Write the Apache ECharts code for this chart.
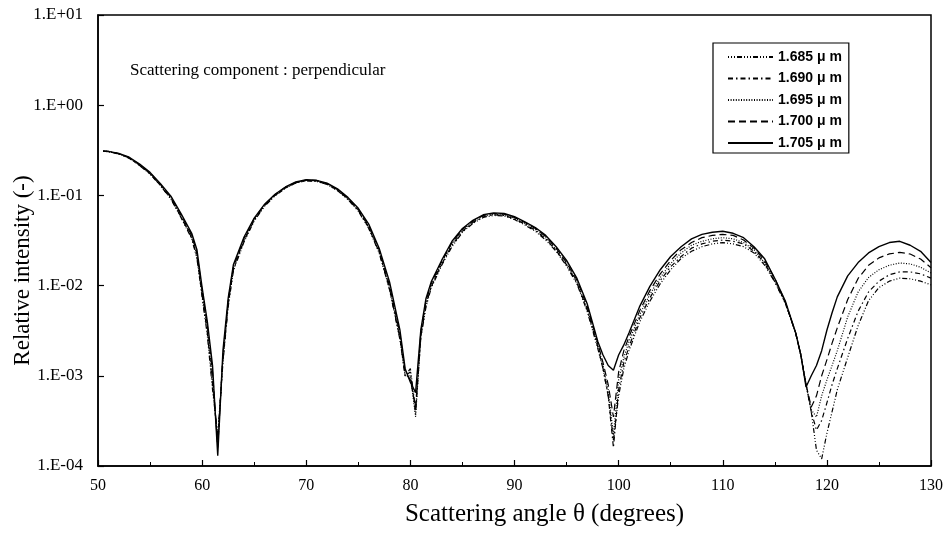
<!DOCTYPE html>
<html>
<head>
<meta charset="utf-8">
<script src="https://cdn.jsdelivr.net/npm/echarts@6/dist/echarts.min.js"></script>
<style>
  html, body { margin: 0; padding: 0; background: #fff; }
  #chart { width: 950px; height: 548px; }
</style>
</head>
<body>
<div id="chart"></div>
<script>
// Scattering angle (degrees); finer steps around the minima
const angles = [
  50.5, 51, 52, 53, 54, 55, 56, 57, 58, 59,
  59.5, 60, 60.5, 61, 61.5, 62, 62.5, 63,
  64, 65, 66, 67, 68, 69, 70, 71, 72, 73, 74, 75, 76, 77, 78, 79,
  79.5, 80, 80.5, 81, 81.5, 82,
  83, 84, 85, 86, 87, 88, 89, 90, 91, 92, 93, 94, 95, 96, 97, 98,
  98.5, 99, 99.5, 100, 100.5, 101,
  102, 103, 104, 105, 106, 107, 108, 109, 110, 111, 112, 113, 114, 115, 116, 117,
  117.5, 118, 118.5, 119, 119.5, 120, 120.5, 121,
  122, 123, 124, 125, 126, 127, 128, 129, 130
];

// Relative intensity, perpendicular component, one array per wavelength
const wl1685 = [
  0.31, 0.305, 0.288, 0.258, 0.214, 0.173, 0.128, 0.091, 0.056, 0.033,
  0.020, 0.0075, 0.0028, 0.0007, 0.00022, 0.0014, 0.0058, 0.0145,
  0.030, 0.052, 0.076, 0.099, 0.120, 0.137, 0.145, 0.143, 0.132, 0.113, 0.090, 0.067, 0.043, 0.023, 0.0090, 0.0025,
  0.0010, 0.0012, 0.00042, 0.0026, 0.0058, 0.0094,
  0.0167, 0.027, 0.039, 0.049, 0.057, 0.060, 0.059, 0.054, 0.047, 0.040, 0.032, 0.024, 0.0165, 0.0104, 0.0051, 0.0020,
  0.0012, 0.0006, 0.00019, 0.0006, 0.0012, 0.0019,
  0.0039, 0.0067, 0.0105, 0.015, 0.020, 0.024, 0.027, 0.029, 0.030, 0.029, 0.027, 0.023, 0.017, 0.011, 0.0064, 0.0030,
  0.0017, 0.0008, 0.0004, 0.00015, 0.00012, 0.00023, 0.0004, 0.0007,
  0.0016, 0.0036, 0.0068, 0.0095, 0.0112, 0.0121, 0.0119, 0.0112, 0.0102
];
const wl1690 = [
  0.31, 0.306, 0.289, 0.259, 0.215, 0.174, 0.129, 0.092, 0.057, 0.034,
  0.021, 0.0078, 0.0030, 0.0008, 0.00020, 0.0015, 0.0061, 0.015,
  0.031, 0.053, 0.077, 0.100, 0.121, 0.138, 0.146, 0.144, 0.133, 0.114, 0.091, 0.068, 0.044, 0.0235, 0.0092, 0.0026,
  0.0010, 0.0011, 0.00038, 0.0027, 0.0061, 0.0097,
  0.0172, 0.028, 0.040, 0.050, 0.058, 0.061, 0.060, 0.055, 0.048, 0.041, 0.033, 0.0245, 0.017, 0.0107, 0.0053, 0.0021,
  0.0012, 0.0006, 0.00016, 0.0007, 0.0014, 0.0021,
  0.0043, 0.0073, 0.0114, 0.0162, 0.021, 0.026, 0.029, 0.031, 0.032, 0.031, 0.029, 0.024, 0.018, 0.011, 0.0065, 0.0030,
  0.0017, 0.0008, 0.0004, 0.00025, 0.00032, 0.0005, 0.0008, 0.0012,
  0.0026, 0.0052, 0.0085, 0.0112, 0.0132, 0.0142, 0.0142, 0.0135, 0.0121
];
const wl1695 = [
  0.31, 0.306, 0.289, 0.260, 0.216, 0.175, 0.130, 0.093, 0.058, 0.035,
  0.022, 0.0082, 0.0033, 0.0009, 0.00018, 0.0016, 0.0064, 0.0155,
  0.032, 0.054, 0.078, 0.101, 0.122, 0.139, 0.147, 0.145, 0.134, 0.115, 0.092, 0.069, 0.045, 0.024, 0.0095, 0.0027,
  0.0010, 0.0010, 0.00035, 0.0028, 0.0064, 0.010,
  0.0177, 0.029, 0.041, 0.051, 0.059, 0.062, 0.061, 0.056, 0.049, 0.042, 0.034, 0.025, 0.0175, 0.011, 0.0055, 0.0022,
  0.0013, 0.0007, 0.00022, 0.0009, 0.0016, 0.0024,
  0.0047, 0.0080, 0.0123, 0.0175, 0.023, 0.028, 0.031, 0.033, 0.034, 0.033, 0.030, 0.025, 0.018, 0.0115, 0.0065, 0.0030,
  0.0017, 0.0008, 0.00042, 0.00035, 0.0006, 0.0009, 0.0013, 0.0019,
  0.0045, 0.0085, 0.0123, 0.0150, 0.0168, 0.0178, 0.0174, 0.0160, 0.0138
];
const wl1700 = [
  0.31, 0.307, 0.290, 0.262, 0.218, 0.177, 0.132, 0.095, 0.060, 0.036,
  0.023, 0.0088, 0.0036, 0.0011, 0.00016, 0.0017, 0.0068, 0.016,
  0.033, 0.055, 0.079, 0.102, 0.123, 0.140, 0.148, 0.146, 0.135, 0.116, 0.093, 0.070, 0.046, 0.025, 0.010, 0.0029,
  0.0011, 0.0009, 0.00045, 0.0030, 0.0068, 0.0105,
  0.0183, 0.030, 0.042, 0.052, 0.060, 0.063, 0.062, 0.057, 0.050, 0.043, 0.035, 0.026, 0.018, 0.0115, 0.0058, 0.0023,
  0.0014, 0.0008, 0.00035, 0.0011, 0.0019, 0.0027,
  0.0052, 0.0088, 0.0135, 0.019, 0.025, 0.030, 0.034, 0.036, 0.037, 0.036, 0.032, 0.026, 0.019, 0.012, 0.0066, 0.0030,
  0.0017, 0.0008, 0.00045, 0.0006, 0.0010, 0.0015, 0.0023, 0.0034,
  0.0070, 0.0120, 0.0168, 0.0203, 0.0225, 0.0233, 0.0224, 0.0197, 0.0158
];
const wl1705 = [
  0.31, 0.308, 0.292, 0.265, 0.222, 0.180, 0.135, 0.098, 0.062, 0.038,
  0.025, 0.0095, 0.004, 0.0013, 0.00013, 0.0019, 0.0072, 0.017,
  0.034, 0.056, 0.080, 0.103, 0.124, 0.141, 0.149, 0.147, 0.137, 0.118, 0.095, 0.072, 0.048, 0.026, 0.011, 0.0032,
  0.0012, 0.00085, 0.00065, 0.0032, 0.0072, 0.011,
  0.019, 0.031, 0.043, 0.053, 0.061, 0.064, 0.063, 0.058, 0.051, 0.044, 0.036, 0.027, 0.019, 0.012, 0.0062, 0.0024,
  0.0017, 0.0013, 0.00115, 0.0017, 0.0022, 0.0030,
  0.0058, 0.0098, 0.015, 0.021, 0.027, 0.033, 0.037, 0.039, 0.040, 0.038, 0.034, 0.027, 0.020, 0.012, 0.0068, 0.0030,
  0.0017, 0.00075, 0.0010, 0.0013, 0.0019, 0.0032, 0.0050, 0.0075,
  0.0128, 0.018, 0.023, 0.027, 0.030, 0.031, 0.028, 0.024, 0.018
];

const seriesNames = ['1.685 \u03bc m', '1.690 \u03bc m', '1.695 \u03bc m', '1.700 \u03bc m', '1.705 \u03bc m'];
const seriesValues = [wl1685, wl1690, wl1695, wl1700, wl1705];
const dashPatterns = [[1, 2, 1, 2, 1, 2, 5, 2], [5, 3, 1.5, 3], [1, 1.6], [7, 4], 'solid'];

const xTickValues = [50, 60, 70, 80, 90, 100, 110, 120, 130];
const yTickLabels = ['1.E-04', '1.E-03', '1.E-02', '1.E-01', '1.E+00', '1.E+01'];

const serif = 'Liberation Serif';

const chart = echarts.init(document.getElementById('chart'), null, { renderer: 'canvas' });

const series = seriesNames.map((name, i) => ({
  name: name,
  type: 'line',
  data: angles.map((a, k) => [a, seriesValues[i][k]]),
  symbol: 'none',
  smooth: false,
  animation: false,
  z: 2 + i,
  itemStyle: { color: '#000' },
  lineStyle: { color: '#000', width: i === 4 ? 1.4 : 1.2, type: dashPatterns[i] }
}));

chart.setOption({
  backgroundColor: '#fff',
  animation: false,
  grid: {
    left: 98, right: 19, top: 15, bottom: 82,
    outerBoundsMode: 'none',
    containLabel: false,
    show: true, borderColor: '#000', borderWidth: 1.5, backgroundColor: 'transparent'
  },
  legend: {
    orient: 'vertical',
    left: 713, top: 43,
    padding: [7, 7, 3, 14],
    itemGap: 7.5,
    itemWidth: 45,
    itemHeight: 14,
    borderColor: '#000',
    borderWidth: 1.2,
    borderRadius: 0,
    backgroundColor: '#fff',
    itemStyle: { color: 'rgba(0,0,0,0)', borderWidth: 0, opacity: 0 },
    textStyle: { fontFamily: 'Liberation Sans', fontSize: 14, fontWeight: 'bold', color: '#000' },
    data: seriesNames
  },
  xAxis: {
    type: 'value',
    min: 50, max: 130, interval: 10,
    name: 'Scattering angle \u03b8 (degrees)',
    nameLocation: 'middle',
    nameGap: 36,
    nameMoveOverlap: false,
    nameTextStyle: { fontFamily: serif, fontSize: 25, color: '#000', padding: [0, 0, 0, 60] },
    axisLine: { show: true, lineStyle: { color: '#000', width: 1.5 } },
    axisTick: { show: true, inside: true, length: 6, lineStyle: { color: '#000', width: 1.2 } },
    minorTick: { show: true, splitNumber: 2, length: 4, lineStyle: { color: '#000', width: 1 } },
    axisLabel: {
      margin: 12, fontFamily: serif, fontSize: 16, color: '#000',
      formatter: v => (xTickValues.indexOf(v) >= 0 ? String(v) : '')
    },
    splitLine: { show: false }
  },
  yAxis: {
    type: 'log',
    logBase: 10,
    min: 1e-4, max: 10,
    interval: 1,
    name: 'Relative intensity (-)',
    nameLocation: 'middle',
    nameGap: 64,
    nameMoveOverlap: false,
    nameTextStyle: { fontFamily: serif, fontSize: 23, color: '#000', padding: [0, 60, 0, 0] },
    axisLine: { show: true, lineStyle: { color: '#000', width: 1.5 } },
    axisTick: { show: true, inside: true, length: 6, lineStyle: { color: '#000', width: 1.2 } },
    axisLabel: {
      margin: 15, fontFamily: serif, fontSize: 17, color: '#000',
      formatter: v => {
        const idx = Math.round(Math.log10(v)) + 4;
        return yTickLabels[idx] || '';
      }
    },
    splitLine: { show: false }
  },
  graphic: [{
    type: 'text',
    left: 130, top: 62,
    style: {
      text: 'Scattering component : perpendicular',
      fontFamily: serif, fontSize: 17, fill: '#000'
    }
  }],
  series: series
});
</script>
</body>
</html>
